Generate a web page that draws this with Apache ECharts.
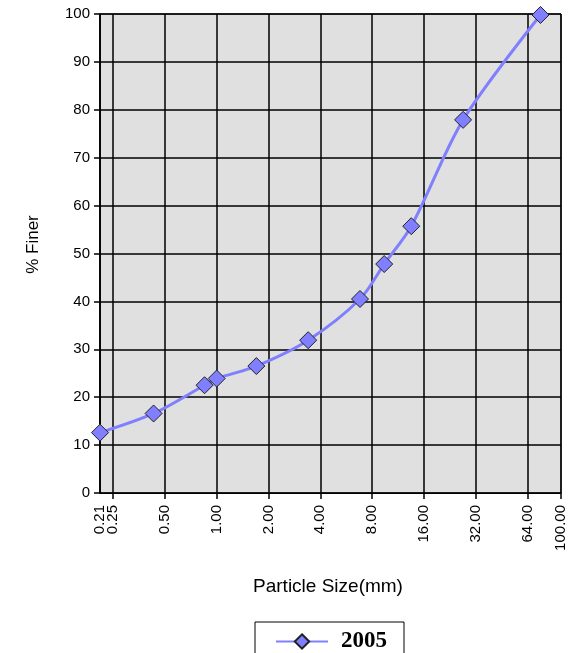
<!DOCTYPE html>
<html>
<head>
<meta charset="utf-8">
<script src="https://cdn.jsdelivr.net/npm/echarts@6/dist/echarts.min.js"></script>
<style>
html,body{margin:0;padding:0;background:#fff;}
#chart{width:575px;height:653px;}
</style>
</head>
<body>
<div id="chart"></div>
<script>
// Data
const seriesName = '2005';
const particleSize = [0.21, 0.43, 0.85, 1.0, 1.7, 3.4, 6.8, 9.4, 13.5, 27, 76];
const percentFiner = [12.6, 16.6, 22.5, 23.9, 26.5, 31.9, 40.5, 47.8, 55.7, 77.9, 99.8];
const xMin = 0.21, xMax = 100;
const yMin = 0, yMax = 100, yStep = 10;

const chart = echarts.init(document.getElementById('chart'), null, {renderer: 'canvas'});
const font = '"Liberation Sans", Arial, sans-serif';
const xLabelStyle = {rotate: 90, fontFamily: font, fontSize: 15, lineHeight: 10, color: '#000', margin: 12, hideOverlap: false};
chart.setOption({
  animation: false,
  backgroundColor: '#ffffff',
  grid: {
    left: 100, right: 14, top: 14, bottom: 160,
    show: true, backgroundColor: '#e0e0e0', borderColor: '#000', borderWidth: 1
  },
  xAxis: [{
    type: 'log', logBase: 2, min: xMin, max: xMax, splitNumber: 10,
    name: 'Particle Size(mm)', nameLocation: 'middle', nameGap: 84,
    nameTextStyle: {fontFamily: font, fontSize: 19, color: '#000', padding: [0, 5, 0, 0]},
    axisLine: {show: true, lineStyle: {color: '#000', width: 1}},
    axisTick: {show: true, length: 6, lineStyle: {color: '#000', width: 1.5}},
    minorTick: {show: false},
    splitLine: {show: true, lineStyle: {color: '#000', width: 1.5}},
    axisLabel: Object.assign({}, xLabelStyle, {
      showMinLabel: false, showMaxLabel: true,
      formatter: v => Number(v).toFixed(2)
    })
  }, {
    // carries only the minimum-value label (0.21), which overlaps 0.25 as in the original
    type: 'log', logBase: 2, min: xMin, max: xMax, splitNumber: 10, position: 'bottom',
    axisLine: {show: false}, axisTick: {show: false}, splitLine: {show: false},
    axisLabel: Object.assign({}, xLabelStyle, {
      showMinLabel: true, showMaxLabel: false,
      formatter: v => (Math.abs(v - xMin) < 1e-6 ? Number(v).toFixed(2) : '')
    })
  }],
  yAxis: {
    type: 'value', min: yMin, max: yMax, interval: yStep,
    name: '% Finer', nameLocation: 'middle', nameGap: 58,
    nameTextStyle: {fontFamily: font, fontSize: 17, color: '#000', padding: [0, 0, 0, 18]},
    axisLine: {show: true, lineStyle: {color: '#000', width: 1.5}},
    axisTick: {show: true, length: 6, lineStyle: {color: '#000', width: 1.5}},
    splitLine: {show: true, lineStyle: {color: '#000', width: 1.5}},
    axisLabel: {fontFamily: font, fontSize: 15, color: '#000', margin: 10}
  },
  legend: {
    show: true, top: 622, left: 255,
    data: [seriesName],
    borderColor: '#000', borderWidth: 1, borderRadius: 0,
    padding: [8, 17, 20, 20],
    itemWidth: 52, itemHeight: 18, itemGap: 13,
    textStyle: {fontFamily: '"Liberation Serif", "Times New Roman", serif', fontSize: 23, fontWeight: 'bold', color: '#000', lineHeight: 22, padding: [0, 0, 0, 8]}
  },
  series: [{
    name: seriesName,
    type: 'line',
    xAxisIndex: 0,
    smooth: 0.3,
    data: particleSize.map((x, i) => [x, percentFiner[i]]),
    symbol: 'diamond', symbolSize: 17,
    lineStyle: {color: '#8080ff', width: 3},
    itemStyle: {color: '#7f7fff', borderColor: '#222', borderWidth: 1},
    z: 5
  }]
});
</script>
</body>
</html>
